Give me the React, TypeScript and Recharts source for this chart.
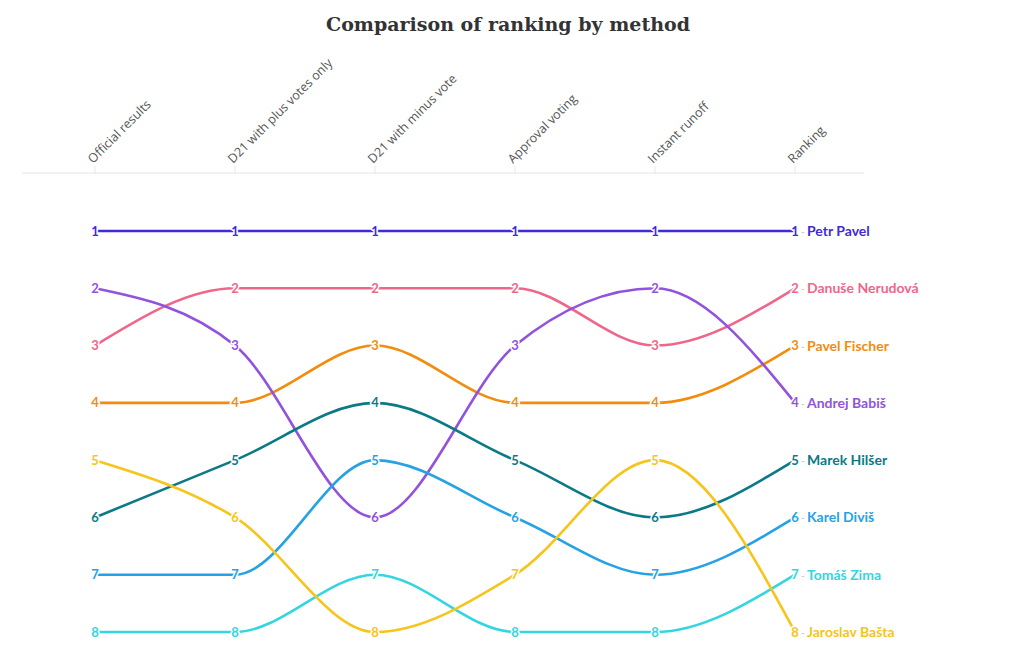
import React from 'react';
import { LineChart, Line, XAxis, YAxis, LabelList } from 'recharts';

// Methods (columns) and candidates
const methods = [
  'Official results',
  'D21 with plus votes only',
  'D21 with minus vote',
  'Approval voting',
  'Instant runoff',
  'Ranking',
];

const candidates = [
  'Petr Pavel',
  'Danuše Nerudová',
  'Pavel Fischer',
  'Andrej Babiš',
  'Marek Hilšer',
  'Karel Diviš',
  'Tomáš Zima',
  'Jaroslav Bašta',
];

const colors = [
  '#3f2bd8',
  '#f0668a',
  '#f28c0f',
  '#9252dd',
  '#0b7a86',
  '#25a2e6',
  '#33d6e0',
  '#f7c41a',
];

// rank of each candidate per method, same order as methods
const petrPavel = [1, 1, 1, 1, 1, 1];
const danuseNerudova = [3, 2, 2, 2, 3, 2];
const pavelFischer = [4, 4, 3, 4, 4, 3];
const andrejBabis = [2, 3, 6, 3, 2, 4];
const marekHilser = [6, 5, 4, 5, 6, 5];
const karelDivis = [7, 7, 5, 6, 7, 6];
const tomasZima = [8, 8, 7, 8, 8, 7];
const jaroslavBasta = [5, 6, 8, 7, 5, 8];

const ranks = [
  petrPavel,
  danuseNerudova,
  pavelFischer,
  andrejBabis,
  marekHilser,
  karelDivis,
  tomasZima,
  jaroslavBasta,
];

const data = methods.map((method, i) => {
  const row: Record<string, string | number> = { method };
  candidates.forEach((c, j) => {
    row[c] = ranks[j][i];
  });
  return row;
});

const labelFont = 'Lato, "Noto Sans", sans-serif';

const MethodTick = ({ x, y, payload }: any) => (
  <g>
    <line x1={x} x2={x} y1={y - 7} y2={y + 1} stroke="#e8e8e8" />
    <text
      x={x - 2}
      y={y - 9}
      transform={`rotate(-45, ${x - 2}, ${y - 9})`}
      textAnchor="start"
      fill="#555"
      fontSize={12.5}
      fontFamily='"Open Sans", sans-serif'
    >
      {payload.value}
    </text>
  </g>
);

const makeLabel = (name: string, color: string) => (props: any) => {
  const { x, y, value, index } = props;
  const last = index === methods.length - 1;
  return (
    <g>
      <text
        x={x}
        y={y}
        dy={4.5}
        textAnchor="middle"
        fill={color}
        stroke="#fff"
        strokeWidth={3}
        paintOrder="stroke"
        fontSize={13}
        fontWeight={700}
        fontFamily={labelFont}
      >
        {value}
      </text>
      {last && (
        <>
          <text x={x + 6} y={y} dy={4} fill="#bbb" fontSize={10} fontFamily={labelFont}>
            -
          </text>
          <text
            x={x + 12}
            y={y}
            dy={5}
            fill={color}
            fontSize={14}
            fontWeight={700}
            fontFamily={labelFont}
          >
            {name}
          </text>
        </>
      )}
    </g>
  );
};

export default function App() {
  return (
    <div style={{ position: 'relative', width: 1000, height: 640 }}>
      <div
        style={{
          position: 'absolute',
          top: 1,
          left: 0,
          width: 1000,
          textAlign: 'center',
          fontFamily: '"DejaVu Serif", serif',
          fontWeight: 700,
          fontSize: 19,
          lineHeight: '30px',
          color: '#333',
        }}
      >
        Comparison of ranking by method
      </div>
      <LineChart
        width={1000}
        height={640}
        data={data}
        margin={{ top: 0, right: 144, left: 14, bottom: 16 }}
      >
        <XAxis
          dataKey="method"
          orientation="top"
          height={165}
          tickSize={0}
          tickMargin={0}
          axisLine={{ stroke: '#e6e6e6' }}
          tickLine={false}
          interval={0}
          padding={{ left: 73, right: 69 }}
          tick={<MethodTick />}
        />
        <YAxis hide type="number" domain={[1, 8]} reversed padding={{ top: 58, bottom: 0 }} />
        {candidates.map((c, j) => (
          <Line
            key={c}
            dataKey={c}
            type="monotone"
            stroke={colors[j]}
            strokeWidth={2.6}
            dot={false}
            isAnimationActive={false}
          >
            <LabelList dataKey={c} content={makeLabel(c, colors[j])} />
          </Line>
        ))}
      </LineChart>
    </div>
  );
}
